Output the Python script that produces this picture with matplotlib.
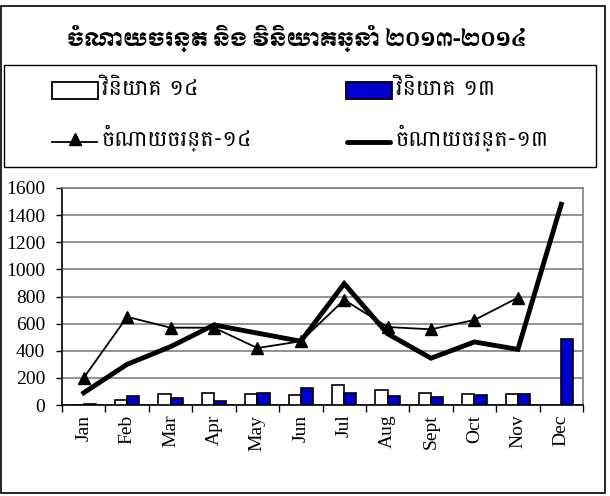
import os
import matplotlib
matplotlib.use('Agg')
import matplotlib.pyplot as plt
import numpy as np
from matplotlib import font_manager as fm
from matplotlib.patches import Rectangle
from matplotlib.lines import Line2D

months = ['Jan', 'Feb', 'Mar', 'Apr', 'May', 'Jun', 'Jul', 'Aug', 'Sept', 'Oct', 'Nov', 'Dec']
invest_14 = [0, 39, 81, 91, 81, 74, 145, 111, 91, 81, 81, np.nan]
invest_13 = [4, 64, 49, 27, 86, 125, 88, 64, 61, 74, 81, 487]
spend_14 = [200, 650, 570, 570, 420, 470, 775, 575, 558, 627, 791, np.nan]
spend_13 = [90, 300, 430, 590, 530, 470, 895, 525, 345, 465, 410, 1480]
yticks = [0, 200, 400, 600, 800, 1000, 1200, 1400, 1600]

title_text = 'ចំណាយចរន្ត និង វិនិយោគឆ្នាំ ២០១៣-២០១៤'
leg_labels = ['វិនិយោគ ១៤', 'វិនិយោគ ១៣', 'ចំណាយចរន្ត-១៤', 'ចំណាយចរន្ត-១៣']

_all_fonts = fm.findSystemFonts()


def khmer_font(prefs, size):
    for n in prefs:
        for f in _all_fonts:
            if os.path.basename(f).startswith(n):
                return fm.FontProperties(fname=f, size=size)
    return fm.FontProperties(family='DejaVu Sans', size=size)


title_fp = khmer_font(['Moul-Regular', 'Moulpali', 'Koulen', 'Bokor'], 14)
leg_fp = khmer_font(['Battambang-Regular', 'Content-Regular', 'Hanuman', 'Khmer'], 16)

W, H = 610, 496
fig = plt.figure(figsize=(W / 100, H / 100), dpi=100)
fig.patch.set_facecolor('white')

# outer border
fig.add_artist(Rectangle((1 / W, 1 - 493 / H), 604 / W, 487 / H, transform=fig.transFigure,
                         fill=False, edgecolor='black', linewidth=1.2))

fig.text(297 / W, 1 - 38 / H, title_text, fontproperties=title_fp, ha='center', va='center')

# legend box
fig.add_artist(Rectangle((4 / W, 1 - 167 / H), 592 / W, 102 / H, transform=fig.transFigure,
                         fill=False, edgecolor='black', linewidth=1.0))
fig.add_artist(Rectangle((52 / W, 1 - 99 / H), 46 / W, 17 / H, transform=fig.transFigure,
                         facecolor='white', edgecolor='black', linewidth=1.3))
fig.add_artist(Rectangle((346 / W, 1 - 99 / H), 46 / W, 17 / H, transform=fig.transFigure,
                         facecolor='#0000CC', edgecolor='black', linewidth=1.3))
fig.add_artist(Line2D([52 / W, 97 / W], [1 - 142 / H, 1 - 142 / H], transform=fig.transFigure,
                      color='black', linewidth=1.3))
fig.add_artist(Line2D([74.5 / W], [1 - 139 / H], transform=fig.transFigure,
                      color='black', marker='^', markersize=9, linestyle='none'))
fig.add_artist(Line2D([347 / W, 390 / W], [1 - 142 / H, 1 - 142 / H], transform=fig.transFigure,
                      color='black', linewidth=3.5, solid_capstyle='round'))
fig.text(102 / W, 1 - 89 / H, leg_labels[0], fontproperties=leg_fp, ha='left', va='center')
fig.text(396 / W, 1 - 89 / H, leg_labels[1], fontproperties=leg_fp, ha='left', va='center')
fig.text(102 / W, 1 - 138 / H, leg_labels[2], fontproperties=leg_fp, ha='left', va='center')
fig.text(396 / W, 1 - 138 / H, leg_labels[3], fontproperties=leg_fp, ha='left', va='center')

ax = fig.add_axes([62 / W, 1 - 405 / H, (583 - 62) / W, (405 - 188) / H])
x = np.arange(len(months))
bw = 0.28
ax.bar(x - bw / 2, invest_14, width=bw, color='white', edgecolor='black', linewidth=1.2, zorder=3)
ax.bar(x + bw / 2, invest_13, width=bw, color='#0000CC', edgecolor='black', linewidth=1.2, zorder=3)
ax.plot(x, spend_13, color='black', linewidth=3.5, zorder=4, solid_joinstyle='miter')
ax.plot(x, spend_14, color='black', linewidth=1.3, marker='^', markersize=9, zorder=5)

ax.set_xlim(-0.5, len(months) - 0.5)
ax.set_ylim(0, 1600)
ax.set_yticks(yticks)
ax.set_yticklabels([str(v) for v in yticks], fontfamily='Liberation Serif', fontsize=14)
ax.set_xticks(x)
ax.set_xticklabels(months, rotation=90, fontfamily='Liberation Serif', fontsize=14)
ax.tick_params(axis='x', which='major', length=0, pad=7)
ax.set_xticks(np.arange(-0.5, len(months)), minor=True)
ax.tick_params(axis='x', which='minor', length=5, width=1, color='black', direction='out')
ax.tick_params(axis='y', length=4, width=1, direction='out', pad=8)
ax.grid(axis='y', color='#808080', linewidth=1.2, zorder=0)
for s in ['top', 'right']:
    ax.spines[s].set_color('#808080')
    ax.spines[s].set_linewidth(1.2)
for s in ['left', 'bottom']:
    ax.spines[s].set_color('black')
    ax.spines[s].set_linewidth(1.2)
ax.set_axisbelow(True)

fig.savefig('out.png', dpi=100)
